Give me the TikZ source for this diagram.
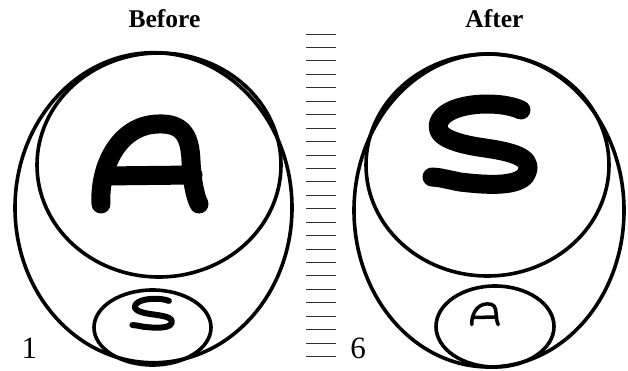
\documentclass[tikz,border=0pt]{standalone}
\usepackage{fontspec}
\setmainfont{Liberation Serif}
\newfontfamily\labelserif{Liberation Serif}
\begin{document}
\begin{tikzpicture}[x=1pt,y=-1pt,
  ring/.style={draw=black,line width=3.6pt},
  rulerline/.style={draw=black!80,line width=0.9pt},
  glyph/.style={line cap=round,line join=round},
  title/.style={font=\labelserif\fontsize{25.5}{30}\selectfont\bfseries,anchor=base,inner sep=0pt},
  digit/.style={font=\labelserif\fontsize{31}{36}\selectfont,anchor=base,inner sep=0pt},
  glyphA/.pic={\draw[pic actions] (-49,41) .. controls (-51,5) and (-32,-38) .. (8,-39)
      .. controls (33,-40) and (40,-27) .. (41,-2) .. controls (42,18) and (45,33) .. (49,41)
      (-46,13) -- (43,12);},
  glyphS/.pic={\draw[pic actions] (40,-35) .. controls (19,-45) and (-31,-43) .. (-41,-25)
      .. controls (-49,-10) and (-31,-2) .. (4,3) .. controls (39,8) and (54,15) .. (44,31)
      .. controls (34,42) and (4,40) .. (-21,37) .. controls (-36,34) and (-43,32) .. (-49,32);}
]
\useasboundingbox (0,0) rectangle (628,371);
% titles
\node[title] (before) at (164.5,27.7) {Before};
\node[title] (after) at (494.5,27.7) {After};
% left
\draw[ring] (153.5,207.7) ellipse [x radius=138.5pt, y radius=155pt];
\draw[ring] (159,165) ellipse [x radius=122pt, y radius=112pt];
\draw[ring] (152.5,327.5) ellipse [x radius=58.5pt, y radius=37.5pt];
\pic[glyph,line width=19pt] at (150,163) {glyphA};
\pic[glyph,line width=6pt,xscale=0.41,yscale=0.36] at (152.5,313.5) {glyphS};
\node[digit,anchor=base west] (one) at (21.5,358) {1};
% right
\draw[ring] (489,210.5) ellipse [x radius=135pt, y radius=156.5pt];
\draw[ring] (487.5,165) ellipse [x radius=121.5pt, y radius=111pt];
\draw[ring] (495,326.5) ellipse [x radius=59pt, y radius=40.5pt];
\pic[glyph,line width=19pt] at (481,145) {glyphS};
\pic[glyph,line width=3.5pt,xscale=0.27,yscale=0.26] at (485,314) {glyphA};
\node[digit] (six) at (358,358) {6};
% ruler
\foreach \i in {0,...,24}
  \draw[rulerline] (306,34+13.44*\i) -- (336,34+13.44*\i);
\end{tikzpicture}
\end{document}
